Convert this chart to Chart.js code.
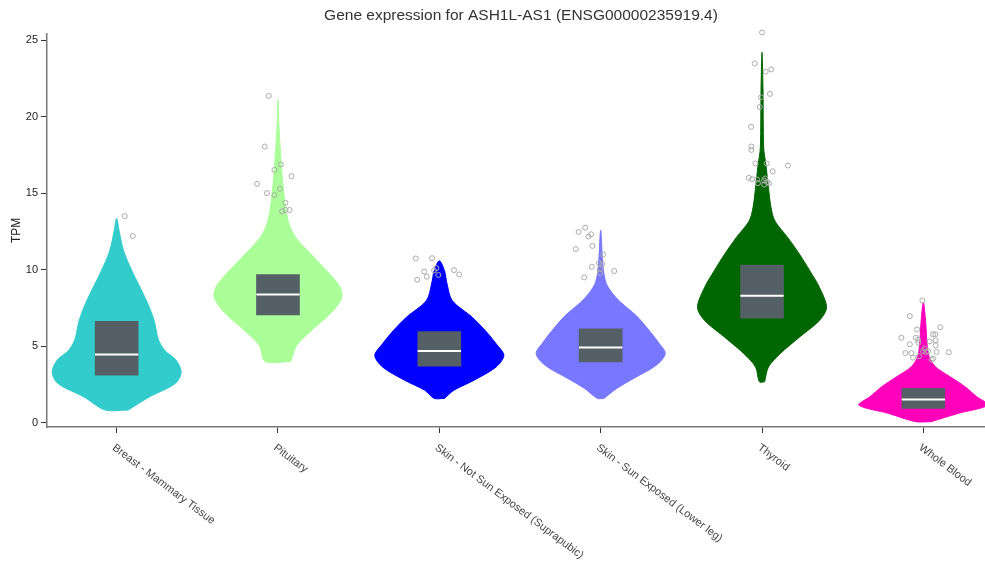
<!DOCTYPE html>
<html>
<head>
<meta charset="utf-8">
<title>Gene expression for ASH1L-AS1</title>
<script src="https://cdn.jsdelivr.net/npm/chart.js@4.4.1/dist/chart.umd.min.js"></script>
<style>
  html, body { margin: 0; padding: 0; background: #fff; overflow: hidden; }
  /* the axis runs a little past the window edge, like the original */
  #wrap { width: 1000px; height: 564px; position: relative; }
</style>
</head>
<body>
<div id="wrap"><canvas id="violinChart"></canvas></div>
<script>
// ===== Data =====
const tissues = [
  'Breast - Mammary Tissue',
  'Pituitary',
  'Skin - Not Sun Exposed (Suprapubic)',
  'Skin - Sun Exposed (Lower leg)',
  'Thyroid',
  'Whole Blood'
];
const tissueColors = ['#33CCCC', '#AAFF99', '#0000FF', '#7777FF', '#006600', '#FF00BB'];
const yTicks = [0, 5, 10, 15, 20, 25];

// violin outlines: TPM level (bottom -> top) and relative density width (1 = widest)
const breastTpm     = [0.83, 1.69, 2.56, 3.3, 4.1, 4.7, 5.4, 6.7, 8.0, 9.9, 11.2, 12.5, 13.35];
const breastWidth   = [0.18, 0.51, 0.91, 1.0, 0.92, 0.75, 0.65, 0.58, 0.46, 0.24, 0.11, 0.04, 0];
const pituitaryTpm   = [4.0, 5.05, 6.1, 7.2, 8.2, 8.95, 10.0, 11.1, 12.2, 13.3, 15.45, 17.6, 19.4, 21.1];
const pituitaryWidth = [0.2, 0.29, 0.54, 0.83, 0.99, 0.95, 0.74, 0.49, 0.26, 0.15, 0.08, 0.04, 0.015, 0];
const skinNseTpm   = [1.59, 2.13, 2.78, 3.64, 4.4, 5.16, 6.03, 6.89, 7.98, 9.06, 9.93, 10.58];
const skinNseWidth = [0.08, 0.23, 0.54, 0.88, 1.0, 0.88, 0.71, 0.51, 0.2, 0.12, 0.08, 0];
const skinSeTpm   = [1.59, 2.24, 2.89, 3.75, 4.51, 5.27, 6.14, 7.0, 7.87, 8.52, 9.17, 10.25, 12.59];
const skinSeWidth = [0.05, 0.25, 0.51, 0.86, 1.0, 0.89, 0.73, 0.55, 0.31, 0.17, 0.08, 0.035, 0];
const thyroidTpm   = [2.67, 3.64, 4.51, 5.59, 6.68, 7.54, 8.84, 9.93, 11.01, 12.09, 13.18, 14.04, 15.35, 16.87, 17.95, 21.85, 24.2];
const thyroidWidth = [0.04, 0.1, 0.28, 0.58, 0.89, 1.0, 0.89, 0.74, 0.58, 0.4, 0.2, 0.14, 0.1, 0.06, 0.026, 0.015, 0];
const bloodTpm   = [0.07, 0.61, 1.15, 1.69, 2.34, 2.99, 3.64, 4.29, 5.16, 6.46, 7.87];
const bloodWidth = [0.12, 0.54, 1.0, 0.83, 0.65, 0.42, 0.19, 0.09, 0.057, 0.038, 0];

// box plot stats
const q1Values     = [3.1, 7.05, 3.69, 3.97, 6.83, 0.94];
const medianValues = [4.45, 8.37, 4.68, 4.92, 8.3, 1.52];
const q3Values     = [6.63, 9.67, 5.96, 6.14, 10.3, 2.24];

// outliers: [horizontal jitter, TPM]
const breastOutliers = [[0.05, 13.5], [0.10, 12.2]];
const pituitaryOutliers = [
  [-0.057, 21.35], [-0.082, 18.04], [0.018, 16.87], [-0.022, 16.52], [0.084, 16.1],
  [-0.13, 15.6], [0.012, 15.28], [-0.068, 15.0], [-0.022, 14.87], [0.046, 14.37],
  [0.025, 13.81], [0.047, 13.9], [0.072, 13.9]
];
const skinNseOutliers = [
  [-0.146, 10.73], [-0.045, 10.75], [-0.094, 9.88], [-0.018, 10.1], [-0.033, 9.95],
  [-0.078, 9.54], [-0.006, 9.65], [-0.136, 9.34], [0.091, 9.97], [0.123, 9.69]
];
const skinSeOutliers = [
  [-0.137, 12.46], [-0.096, 12.74], [-0.076, 12.16], [-0.059, 12.31], [-0.154, 11.34],
  [-0.051, 11.55], [0.015, 10.99], [-0.055, 10.19], [0.01, 10.38], [-0.01, 10.43],
  [-0.004, 10.04], [-0.004, 9.78], [0.084, 9.91], [-0.102, 9.49]
];
const thyroidOutliers = [
  [0, 25.49], [-0.045, 23.47], [0.023, 22.93], [0.057, 23.08], [-0.006, 21.26],
  [0.049, 21.48], [-0.014, 20.63], [-0.068, 19.33], [-0.066, 18.04], [-0.066, 17.82],
  [-0.041, 16.93], [0.029, 16.93], [0.066, 16.43], [0.16, 16.8], [-0.082, 16.0],
  [-0.062, 15.91], [-0.031, 15.89], [-0.025, 15.65], [0.014, 15.56], [0.031, 15.72],
  [0.02, 15.96], [0.043, 15.65], [0.012, 15.83]
];
const bloodOutliers = [
  [-0.006, 7.98], [-0.084, 6.96], [-0.039, 6.09], [0.105, 6.24], [-0.136, 5.55],
  [-0.047, 5.55], [-0.033, 5.42], [0.06, 5.77], [0.074, 5.77], [0.076, 5.38],
  [0.039, 5.31], [-0.084, 5.12], [-0.031, 5.23], [0.076, 5.05], [0.008, 4.84],
  [-0.002, 4.68], [0.029, 4.68], [-0.111, 4.55], [-0.074, 4.55], [0.082, 4.62],
  [0.158, 4.6], [-0.027, 4.34], [-0.064, 4.25], [0.06, 4.19], [0.051, 4.12], [0.018, 4.62]
];

const violinTpm = [breastTpm, pituitaryTpm, skinNseTpm, skinSeTpm, thyroidTpm, bloodTpm];
const violinWidth = [breastWidth, pituitaryWidth, skinNseWidth, skinSeWidth, thyroidWidth, bloodWidth];
const outliers = [breastOutliers, pituitaryOutliers, skinNseOutliers, skinSeOutliers, thyroidOutliers, bloodOutliers];

// ===== Layout constants =====
const VIOLIN_HALF = 0.4;     // half of the widest violin, in category units
const BOX_HALF = 0.134;
const FONT = '"Liberation Sans", Arial, sans-serif';

// ===== Helpers =====
function violinOutline(idx) {
  const tpm = violinTpm[idx], w = violinWidth[idx];
  const right = tpm.map((y, k) => ({ x: idx + w[k] * VIOLIN_HALF, y }));
  const left = tpm.map((y, k) => ({ x: idx - w[k] * VIOLIN_HALF, y })).reverse();
  return right.concat(left.slice(1), [right[0]]);
}

function medianSegments() {
  const pts = [];
  medianValues.forEach((m, i) => {
    pts.push({ x: i - BOX_HALF, y: m }, { x: i + BOX_HALF, y: m }, { x: i, y: null });
  });
  return pts;
}

function outlierPoints() {
  const pts = [];
  outliers.forEach((list, i) => {
    list.forEach(([dx, y]) => pts.push({ x: i + dx, y }));
  });
  return pts;
}

// rotated tissue names under the x axis
const tissueLabels = {
  id: 'tissueLabels',
  afterDraw(chart) {
    const { ctx, scales: { x } } = chart;
    ctx.save();
    ctx.font = '11px ' + FONT;
    ctx.fillStyle = '#444';
    ctx.textAlign = 'left';
    ctx.textBaseline = 'alphabetic';
    tissues.forEach((name, i) => {
      ctx.save();
      ctx.translate(x.getPixelForValue(i) - 5, x.top + 22);
      ctx.rotate(37 * Math.PI / 180);
      ctx.fillText(name, 0, 0);
      ctx.restore();
    });
    ctx.restore();
  }
};

// ===== Chart =====
const violinSets = tissues.map((name, i) => ({
  type: 'line',
  label: name,
  data: violinOutline(i),
  borderColor: tissueColors[i],
  backgroundColor: tissueColors[i],
  borderWidth: 1,
  fill: 'shape',
  tension: 0.3,
  pointRadius: 0,
  order: 4
}));

const boxSet = {
  type: 'bar',
  label: 'IQR',
  data: tissues.map((_, i) => ({ x: i, y: [q1Values[i], q3Values[i]] })),
  backgroundColor: '#555F66',
  borderWidth: 0,
  barThickness: 43,
  order: 3
};

const medianSet = {
  type: 'line',
  label: 'median',
  data: medianSegments(),
  borderColor: '#ffffff',
  borderWidth: 2,
  pointRadius: 0,
  fill: false,
  spanGaps: false,
  order: 2
};

const outlierSet = {
  type: 'scatter',
  label: 'outliers',
  data: outlierPoints(),
  pointRadius: 2.5,
  borderColor: '#aaaaaa',
  borderWidth: 1,
  backgroundColor: 'rgba(255,255,255,0)',
  clip: false,
  order: 1
};

Chart.defaults.font.family = FONT;
Chart.defaults.color = '#222';

new Chart(document.getElementById('violinChart'), {
  type: 'scatter',
  data: { datasets: [...violinSets, boxSet, medianSet, outlierSet] },
  options: {
    responsive: true,
    maintainAspectRatio: false,
    animation: false,
    layout: { padding: 0 },
    plugins: {
      legend: { display: false },
      tooltip: { enabled: false },
      title: {
        display: true,
        fullSize: false,
        text: 'Gene expression for ASH1L-AS1 (ENSG00000235919.4)',
        color: '#333',
        font: { size: 15.5, weight: 'normal' },
        padding: { top: 6, bottom: 9 }
      }
    },
    scales: {
      x: {
        type: 'linear',
        min: -0.4316,
        max: 5.444,
        offset: false,
        afterBuildTicks: scale => { scale.ticks = tissues.map((_, i) => ({ value: i })); },
        afterFit: scale => { scale.height = 137; },
        ticks: { display: false },
        grid: { offset: false, drawOnChartArea: false, drawTicks: true, tickLength: 6, color: '#333' },
        border: { color: '#777', width: 1.5 }
      },
      y: {
        type: 'linear',
        min: -0.28,
        max: 25.42,
        afterBuildTicks: scale => { scale.ticks = yTicks.map(v => ({ value: v })); },
        afterFit: scale => { scale.width = 47; },
        ticks: { font: { size: 11 }, padding: 3, color: '#222' },
        grid: { drawOnChartArea: false, drawTicks: true, tickLength: 6, color: '#333' },
        border: { color: '#777', width: 1.5 },
        title: { display: true, text: 'TPM', font: { size: 12 }, padding: { top: 9.5 }, color: '#222' }
      }
    }
  },
  plugins: [tissueLabels]
});
</script>
</body>
</html>
